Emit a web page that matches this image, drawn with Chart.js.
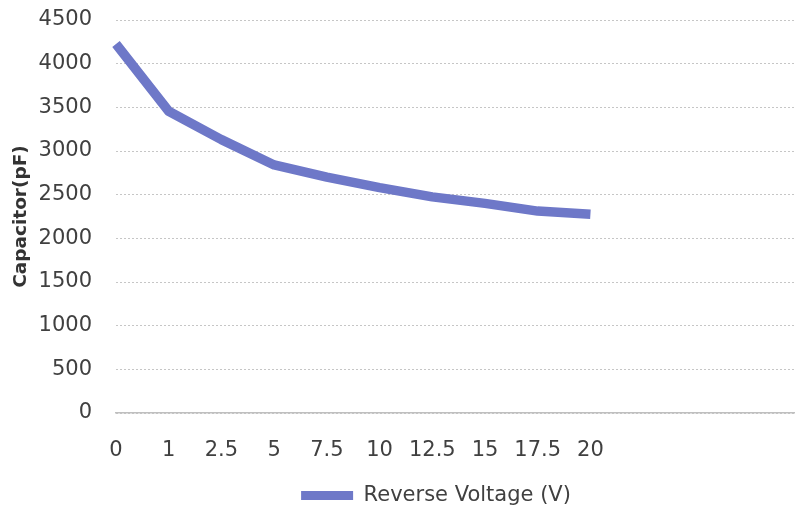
<!DOCTYPE html>
<html>
<head>
<meta charset="utf-8">
<script src="https://cdn.jsdelivr.net/npm/chart.js@4.4.1/dist/chart.umd.min.js"></script>
<style>
html,body{margin:0;padding:0;background:#fff;overflow:hidden;}
#wrap{position:absolute;left:0;top:0;width:795px;height:507px;overflow:hidden;}
#box{position:absolute;left:0;top:0;width:872px;height:507px;}
</style>
</head>
<body>
<div id="wrap"><div id="box"><canvas id="c" width="872" height="507"></canvas></div></div>
<script>
const categories = ["0","1","2.5","5","7.5","10","12.5","15","17.5","20","","","","",""];
const capacitance = [4225, 3455, 3130, 2840, 2700, 2580, 2475, 2400, 2312, 2275];
const yTicks = [0,500,1000,1500,2000,2500,3000,3500,4000,4500];
const seriesName = "Reverse Voltage (V)";
const yTitle = "Capacitor(pF)";
const lineColor = "#6e78c8";
const FONT = "'DejaVu Sans', sans-serif";

new Chart(document.getElementById('c'), {
  type: 'line',
  data: {
    labels: categories,
    datasets: [{
      label: seriesName,
      data: capacitance,
      borderColor: lineColor,
      backgroundColor: lineColor,
      borderWidth: 9.5,
      pointRadius: 0,
      borderJoinStyle: 'round',
      borderCapStyle: 'butt',
      tension: 0,
      fill: false
    }]
  },
  options: {
    responsive: false,
    animation: false,
    devicePixelRatio: 1,
    layout: { padding: { top: 20, right: 0, bottom: -9, left: 0 } },
    plugins: {
      tooltip: { enabled: false },
      legend: {
        position: 'bottom',
        labels: {
          font: { family: FONT, size: 21 },
          color: '#404040',
          boxWidth: 52,
          boxHeight: 9,
          padding: 4,
          generateLabels(chart) {
            const items = Chart.defaults.plugins.legend.labels.generateLabels(chart);
            items.forEach(i => { i.lineWidth = 0; i.fillStyle = lineColor; i.strokeStyle = lineColor; });
            return items;
          }
        }
      }
    },
    scales: {
      x: {
        type: 'category',
        offset: false,
        grid: { display: true, color: 'rgba(0,0,0,0)', drawTicks: true, tickLength: 25, tickColor: 'rgba(0,0,0,0)' },
        border: { display: true, color: '#bfbfbf', width: 1.5 },
        ticks: {
          autoSkip: false, maxRotation: 0, padding: 0,
          font: { family: FONT, size: 21 }, color: '#404040'
        },
        afterFit(s) { s.height = 68; }
      },
      y: {
        min: 0, max: 4500,
        afterBuildTicks(s) { s.ticks = yTicks.map(v => ({ value: v })); },
        grid: { color: '#c6c6c6', lineWidth: 1, drawTicks: true, tickLength: 24, tickColor: 'rgba(0,0,0,0)' },
        border: { display: false, dash: [2, 2] },
        ticks: {
          padding: 0,
          callback: v => String(v),
          font: { family: FONT, size: 21 }, color: '#404040'
        },
        title: {
          display: true, text: yTitle,
          font: { family: FONT, size: 18.5, weight: 'bold' }, color: '#333333',
          padding: { top: 10, bottom: 0 }
        },
        afterFit(s) { s.width = 116; }
      },
      y2: {
        position: 'right',
        display: true,
        grid: { display: false, drawTicks: false },
        border: { display: false },
        ticks: { display: false },
        afterFit(s) { s.width = 18; }
      }
    }
  }
});
</script>
</body>
</html>
